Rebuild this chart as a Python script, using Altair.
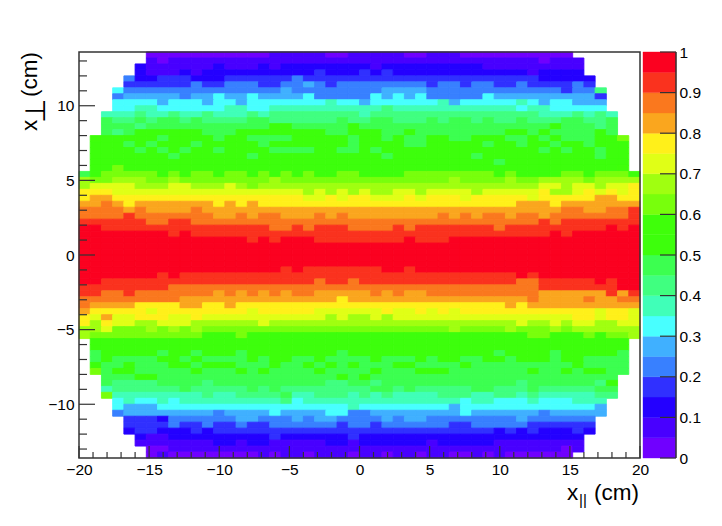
import altair as alt
import pandas as pd

# Heat-map cell levels, one string per row from top to bottom, one letter per column
# a = 0-0.05, b = 0.05-0.10, ... t = 0.95-1, '.' = empty bin
rows = [
"......aaaa aaaaaaabbb bbaabbbbba abbbaaaaaa aaaa......",
"......babb bbbbbbbbbb bbbbbbbbbb bbbbbbbbbb babbb.....",
".....cbbbb bbcbbbcbcc ccccccbccc ccccccbbbb bbbbb.....",
".....cbbbc bccccccccc cdcccdcdcc cccccccccc bcccc.....",
"....eccddd cccdddddde dddddddddd dddddddddd dccccc....",
"....dddddd eddeeeddee fedeeeeeee edeedeedde dddded....",
"...geeeeee eeeeeeeefe eeeeeeefff feeeeeeeee eeedeei...",
"...efffffe ffgffgffff geeeeegfgf geeeeegfff ffffffd...",
"...ggggfgg gfggfggggg gghggfgggg gghfgggggh gfggfff...",
"...gghhggg ggghhgghhh hhhhhhhihh hhhhhhhhhg hhggggg...",
"..hhhihhih hihhhihiii iiiiihiiii iiiiiiiiii ihhhihih..",
"..jiijijji jiiiijjiii iiijiijjii ijijjijiij iiijjiij..",
"..jjjijjjj jjjjjjjkkj jjjjkjjjjj jjjjjjjjjj jjkjjjij..",
"..jijkkkkk kjjjkkkkkk kkjjkkkjjk jjjjjjjjkk jkjjjjkj..",
".lkkkkkjkk kkjkkjjjjk kkkkjkkjkj jkkjjkkkjj kjkjjjkkm.",
".kkkjkjkkk jkkkkkjkkk kkkkjkkkkj jkkkkkjkkj kkjkkjkkk.",
".kkkkjkjkj kkjkkkkjjj jkkjjkjkkk kkkkkkkkkk kjkjkkjkk.",
".kkkkkkkjk kkkkkjkkkk kkkkkkkjkk kkkkkjkkkk kkkkkkjkk.",
".kkkkkkkkk kkkkkkkkkk kkkkkkkkkk kkkkkkkjkk kkkkkkkkk.",
".kkmkkkkkk kkkkkkkkkk kkkkkkkkkk kkkkkkkkkk kkkkkkkkl.",
"jkmmmmmkmk mmkmmkmkmk mkkmmkkkkm mmmmmmmkmk kkkmmkmmmk",
"nmmnnnmmnm mmmmmmmnmm mmmmmmmmmm mmmnmmmmnm mnnnnmnnnn",
"noooonnnoo nnnonmnnnn nnnnnnnnnn nnnnnnnnnn noonoonoop",
"pppooooooo oooooooooo nonononnoo noooonoooo opnnopopop",
"pqqppppppp pppppppppp oopoppooop opppoppppp opppppqqpp",
"qqrqpqqqqq qqpqpqpppp pppppppppp pppppppppq qqpqqqqqqq",
"rrrrqrqqqq rqqqqqqqqq qqqqqqqqqq qqqqqqqqqq qqqrrqqrrs",
"rrrrsrrrrr rrqqrqrrqq qrqrqqqqqq qqrqrqrrqr rqrrrrrrrs",
"ssssssrrss rrrrrrrrrr rrrrrrrrrr rrrrrrrrrr rsrsssssss",
"ttssssssss sssssssrrs rsssrrrrsr sssssssrss ssssssstst",
"ttttttttst ssssssssss ssssssssss ssssssssss sststttttt",
"tttttttttt tttttststt tsssssssst sssttttttt tttttttttt",
"tttttttttt tttttttttt tttttttttt tttttttttt tttttttttt",
"tttttttttt tttttttttt tttttttttt tttttttttt tttttttttt",
"tttttttttt tttttttttt tttttttttt tttttttttt tttttttttt",
"tttttttttt tttttttttt tttttttttt tttttttttt tttttttttt",
"tttttttttt ttttttttst ssssssstts tttttttttt tttttttttt",
"tttttttsts ssssssssss ssssssssss ssssssssst sttttttttt",
"ttssssssss ssssssssss srssrsssss sssssssssr rssssststt",
"ssssssssrr rrrrrrrrrr rrrrrrrrrr rrrrrrrrrr rssssssstt",
"ssrrsrrrrr rrqrqrqrqr rqqqqqrqrq qrrrrrrrrr rqqqqqqsqs",
"rrrrrrrrrq qqqqqqqqqq qqqpqqqqqq qqqqqqqqqq rqqqqrqqrr",
"rqqqqppppq qppqpppppp pppppppppp ppppppppqp qqqqqqqqqq",
"qpppppoppp pppppopppp poooooopoo popopppppp ppppppoppo",
"poqoopppoo pooooooooo oononnonoo oooooooooo ooooppoppo",
"pnpoonnooo nnnnnnonnn nnnnnnnnnn nnnnnnnnno nnonoonnoo",
"nnommmnmnm nmmmmmmmmm mmmmmmmmmm mmmnmmmmnm mmnmnnnnnn",
"nmmmmmmmmm mkkkmkkkkk kkkkkkkkkk kkkkkkkkkk mmkkkmkmmn",
".kkkkkkkkk kkkkkkkkkk kkkkkkkkkk kkkkkkkkkk kkkkkkkkk.",
".kkkkkkkkk kkkkkkkkkk kkkkkkkkkk kkkkkkkkkk kkkkkkkkk.",
".jkkkkkjkk jkkkjkkkkk kkkjkkkkkk kkkkkkkjkk kkjkkkkkj.",
".jkjjjjkkj kjjjjkjkkj jkjjjjkjjj kjkkjjkkjk kkjkkjjjj.",
".kjjkjjjkk jkkkjjjkjj kjkjkjjjkk jjjjkjjjjj jjjjkjjjj.",
".mjkkjjjjj kjjjkjkjjj jkjjjjkjjj kkkjjjjjjj kjjkjkkjj.",
"..jjjkkjjj jjjjjjjjjj jjjkjkjjjj jjjjjjjjjj jjjjjjjj..",
"..jiiiijjj jijjjjjjjj jjiijjijjj jjjjjjjjji jjjjjjik..",
"..hiiiiiij iiiiijijii iiiiiijjij iiiiijjiii jiiiiijj..",
"..mhhhhhhh hihhiiiijh hiiihihihh hhiiihhiih ihhhhhii..",
"...ghgghgh hhhhhhhhig hhhhhhhhhh hhhhghhggg hggghhh...",
"...gfffggg gggggggggg gggghggggg gggfgggggg ggggggf...",
"...effffff ffeffffgff ffggeeffff ffffgfffff fefffff...",
"....dddcee eeeeffeeef effeeeefef feeeeeeeef eeeeee....",
"....dddded deddeddeee eeedeedeee eeeddeeeee dddddd....",
"....cddccc dcdddddddd dddddddddd dddddddcdc dcccdc....",
".....cbbcc cccccccdcc ccccdccccc cccccccccc ccccc.....",
".....bbbbb bbccbccbbb bbccbccccc cbcccccbbb bbbbb.....",
"......aabb bbbbbbbbbb bbbbbbbbbb bbbbbbbbbb bbbab.....",
"......abaa aaaaaababb abbbabbabb abbaababaa aaaa......",
]

level_letters = "abcdefghijklmnopqrst"
palette = ["#7000ff", "#4800ff", "#2400ff", "#3030ff", "#3880ff", "#40b0ff", "#48ffff",
           "#40ffb8", "#40ff80", "#3cff50", "#3dff0c", "#3fff0a", "#78ff0c", "#a0ff10",
           "#e0ff16", "#fff01a", "#faa61e", "#fa781e", "#fa321e", "#fb0120"]
thresholds = [0.05, 0.10, 0.15, 0.20, 0.25, 0.30, 0.35, 0.40, 0.45, 0.50,
              0.55, 0.60, 0.65, 0.70, 0.75, 0.80, 0.85, 0.90, 0.95]
x_labels = [-20, -15, -10, -5, 0, 5, 10, 15, 20]
x_minor = [v for v in range(-20, 21) if v % 5]
y_labels = [-10, -5, 0, 5, 10]
y_minor = [v for v in range(-13, 14) if v % 5]
bar_ticks = [0, 0.1, 0.2, 0.3, 0.4, 0.5, 0.6, 0.7, 0.8, 0.9, 1]

W, H = 561, 406
BAR_W = 33
FONT = "Liberation Sans"
INK = "#333333"

cells = []
for r, row in enumerate(rows):
    row = row.replace(" ", "")
    assert len(row) == 50, (r, len(row))
    for c, ch in enumerate(row):
        if ch != ".":
            cells.append({
                "x0": -20 + 0.8 * c, "x1": -20 + 0.8 * (c + 1),
                "y0": 13.6 - 0.4 * (r + 1), "y1": 13.6 - 0.4 * r,
                "v": (level_letters.index(ch) + 0.5) * 0.05,
            })
cells = pd.DataFrame(cells)

color_scale = alt.Scale(type="threshold", domain=thresholds, range=palette)
xs = alt.Scale(domain=[-20, 20], nice=False, zero=False)
ys = alt.Scale(domain=[-13.6, 13.6], nice=False, zero=False)
x_axis = alt.Axis(values=x_labels, title=None, domain=False, ticks=False, grid=False, labelFont=FONT,
                  labelFontSize=15.5, labelColor="black", labelPadding=4, labelOverlap=False, labelFlush=False,
                  format="d")
y_axis = alt.Axis(values=y_labels, title=None, domain=False, ticks=False, grid=False, labelFont=FONT,
                  labelFontSize=15.5, labelColor="black", labelPadding=5, labelOverlap=False, labelFlush=False,
                  format="d")

heat = alt.Chart(cells).mark_rect(strokeWidth=0.9).encode(
    x=alt.X("x0:Q", scale=xs, axis=x_axis),
    x2="x1:Q",
    y=alt.Y("y0:Q", scale=ys, axis=y_axis),
    y2="y1:Q",
    color=alt.Color("v:Q", scale=color_scale, legend=None),
    stroke=alt.Stroke("v:Q", scale=color_scale, legend=None),
)

frame = alt.Chart(pd.DataFrame({"a": [0]})).mark_rect(fillOpacity=0, stroke=INK, strokeWidth=1.5).encode(
    x=alt.value(0), x2=alt.value(W), y=alt.value(0), y2=alt.value(H))


def xticks(vals, length):
    return alt.Chart(pd.DataFrame({"t": vals})).mark_rule(color=INK, strokeWidth=1.2).encode(
        x=alt.X("t:Q", scale=xs, axis=x_axis), y=alt.value(H - length), y2=alt.value(H))


def yticks(vals, length):
    return alt.Chart(pd.DataFrame({"t": vals})).mark_rule(color=INK, strokeWidth=1.2).encode(
        y=alt.Y("t:Q", scale=ys, axis=y_axis), x=alt.value(0), x2=alt.value(length))


def label(text, x, y, size, angle=0, font=FONT):
    return alt.Chart(pd.DataFrame({"a": [0]})).mark_text(
        text=text, fontSize=size, font=font, align="left", baseline="alphabetic", angle=angle, color="black"
    ).encode(x=alt.value(x), y=alt.value(y))


main = alt.layer(
    heat, frame,
    xticks(x_labels, 12), xticks(x_minor, 6), yticks(y_labels, 16), yticks(y_minor, 8),
    label("x", 488, 448, 22.5),
    label("||", 500, 453, 15),
    label("(cm)", 515, 448, 22.5),
    label("x", -42.5, 79, 22.5, 270),
    label("⊥", -34.5, 71, 28, 270, "DejaVu Sans"),
    label("(cm)", -42.5, 45, 22.5, 270),
).properties(width=W, height=H)

bar_df = pd.DataFrame({
    "y0": [0] + thresholds,
    "y1": thresholds + [1],
    "v": [(i + 0.5) * 0.05 for i in range(20)],
})
bys = alt.Scale(domain=[0, 1], nice=False, zero=False)
bar_axis = alt.Axis(orient="right", values=bar_ticks, title=None, domain=False, ticks=False, grid=False,
                    labelFont=FONT, labelFontSize=15.5, labelColor="black", labelPadding=3,
                    labelOverlap=False, labelFlush=False, format=".1~f")
bar_rect = alt.Chart(bar_df).mark_rect(strokeWidth=0.4).encode(
    x=alt.value(0), x2=alt.value(BAR_W),
    y=alt.Y("y0:Q", scale=bys, axis=bar_axis),
    y2="y1:Q",
    color=alt.Color("v:Q", scale=color_scale, legend=None),
    stroke=alt.Stroke("v:Q", scale=color_scale, legend=None),
)
bar_line = alt.Chart(pd.DataFrame({"a": [0]})).mark_rule(color=INK, strokeWidth=1.5).encode(
    x=alt.value(BAR_W), y=alt.value(0), y2=alt.value(H))
bar_t = alt.Chart(pd.DataFrame({"t": bar_ticks})).mark_rule(color=INK, strokeWidth=1.2).encode(
    y=alt.Y("t:Q", scale=bys, axis=bar_axis), x=alt.value(BAR_W - 16), x2=alt.value(BAR_W))
bar = alt.layer(bar_rect, bar_line, bar_t).properties(width=BAR_W, height=H)

chart = alt.hconcat(main, bar, spacing=3, bounds="flush").resolve_scale(
    color="independent", x="independent", y="independent"
).configure_view(stroke=None).properties(
    padding={"left": 10, "top": 37, "right": 0, "bottom": 0}, background="white"
)
chart.save("out.html", embed_options={"renderer": "svg", "actions": False})
